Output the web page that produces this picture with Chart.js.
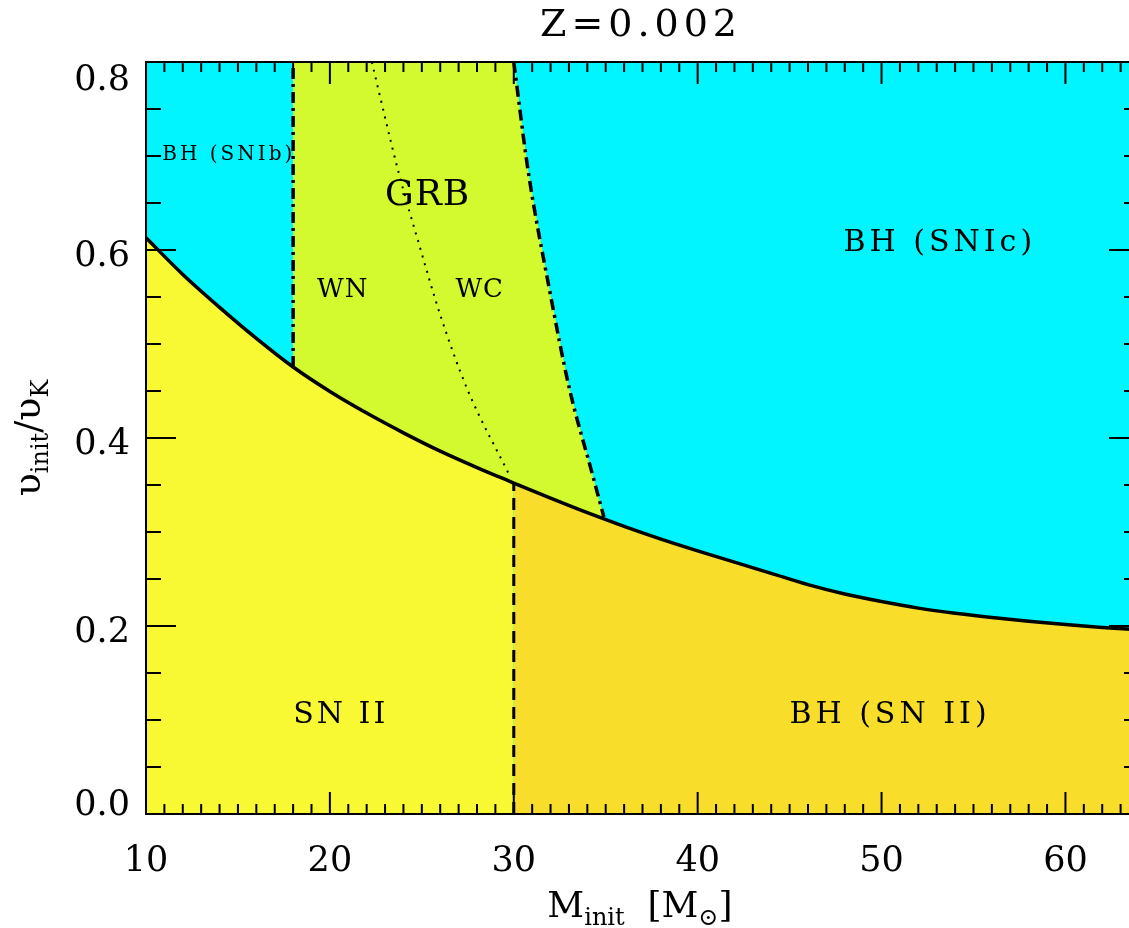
<!DOCTYPE html>
<html>
<head>
<meta charset="utf-8">
<script src="https://cdn.jsdelivr.net/npm/chart.js@4.4.1/dist/chart.umd.min.js"></script>
<style>
  html, body { margin: 0; padding: 0; overflow: hidden; background: #fff; }
  canvas { display: block; }
</style>
</head>
<body>
<canvas id="regimeChart" width="1140" height="928"></canvas>
<script>
// critical rotation boundary (solid line)
const massGrid = [10, 12, 14, 16, 18, 20, 22, 24, 26, 28, 30, 32, 34, 36, 38, 40, 42, 44, 46, 48, 50, 52, 54, 56, 58, 60, 62, 64];
const vBoundary = [0.613, 0.574, 0.539, 0.506, 0.4755, 0.4495, 0.4265, 0.4055, 0.386, 0.3685, 0.352, 0.336, 0.3205, 0.306, 0.2925, 0.280, 0.268, 0.256, 0.244, 0.234, 0.226, 0.219, 0.2135, 0.209, 0.205, 0.2015, 0.1985, 0.196];
// GRB right edge (dash-dot)
const grbEdgeMass = [30.0, 30.79, 31.93, 33.02, 34.24, 34.9];
const grbEdgeV = [0.8, 0.683, 0.559, 0.453, 0.364, 0.316];
// WN / WC split (dotted)
const wnwcMass = [22.28, 23.73, 24.91, 26.0, 27.45, 29.8];
const wnwcV = [0.8, 0.683, 0.602, 0.531, 0.453, 0.359];
const snIbEdgeMass = 18;
const bhEdgeMass = 30;
const vMax = 0.8;

const xTicks = [10, 20, 30, 40, 50, 60];
const yTicks = [0, 0.2, 0.4, 0.6, 0.8];
const yTickLabels = ['0.0', '0.2', '0.4', '0.6', '0.8'];
const regionNames = ['BH (SNIb)', 'GRB', 'WN', 'WC', 'BH (SNIc)', 'SN II', 'BH (SN II)'];

const cyan = '#00f5fe', yellow = '#f8f833', green = '#d3f92f', gold = '#f8dd2b';
const serif = '"DejaVu Serif", serif';

const pts = (xs, ys) => xs.map((m, i) => ({ x: m, y: ys[i] }));
const vAt = m => {
  for (let i = 1; i < massGrid.length; i++) {
    if (m <= massGrid[i]) {
      const t = (m - massGrid[i - 1]) / (massGrid[i] - massGrid[i - 1]);
      return vBoundary[i - 1] + t * (vBoundary[i] - vBoundary[i - 1]);
    }
  }
  return vBoundary[vBoundary.length - 1];
};

const curve = pts(massGrid, vBoundary);
const curveLeft = curve.filter(p => p.x <= bhEdgeMass);
const curveRight = curve.filter(p => p.x >= bhEdgeMass);
const grbEdge = pts(grbEdgeMass, grbEdgeV);
const grbLast = grbEdgeMass[grbEdgeMass.length - 1];
const grbShape = [{ x: snIbEdgeMass, y: vMax }]
  .concat(grbEdge)
  .concat(curve.filter(p => p.x >= snIbEdgeMass && p.x < grbLast).reverse());

const line = (data, extra) => Object.assign({
  data, borderColor: '#000', borderWidth: 3.5, pointRadius: 0, fill: false, tension: 0
}, extra);
const smooth = { cubicInterpolationMode: 'monotone' };

const frame = {
  id: 'frame',
  beforeDraw(chart) {
    const { ctx, chartArea: a } = chart;
    ctx.save();
    ctx.fillStyle = cyan;
    ctx.fillRect(a.left, a.top, a.right - a.left, a.bottom - a.top);
    ctx.restore();
  },
  afterDatasetsDraw(chart) {
    const { ctx, scales: { x, y } } = chart;
    const labels = [
      [0, 14.42, 0.704, 20, 3], [1, 25.29, 0.662, 36, 1], [2, 20.67, 0.56, 26, 1],
      [3, 28.12, 0.56, 26, 1], [4, 53.06, 0.611, 30, 4], [5, 20.51, 0.1085, 30, 3],
      [6, 50.35, 0.1085, 30, 4]
    ];
    ctx.save();
    ctx.fillStyle = '#000';
    ctx.textAlign = 'center';
    ctx.textBaseline = 'alphabetic';
    labels.forEach(([i, m, v, size, sp]) => {
      ctx.font = size + 'px ' + serif;
      ctx.letterSpacing = sp + 'px';
      ctx.fillText(regionNames[i], x.getPixelForValue(m) + sp / 2, y.getPixelForValue(v) + size * 0.365);
    });
    ctx.restore();
  },
  afterDraw(chart) {
    const { ctx, chartArea: a, scales: { x, y } } = chart;
    ctx.save();
    ctx.strokeStyle = '#000';
    ctx.lineWidth = 2;
    ctx.beginPath();
    for (let m = 10; m <= 64; m++) {
      const px = x.getPixelForValue(m);
      const len = m % 10 === 0 ? 22 : 10;
      ctx.moveTo(px, a.bottom); ctx.lineTo(px, a.bottom - len);
      ctx.moveTo(px, a.top); ctx.lineTo(px, a.top + len);
    }
    for (let k = 0; k <= 16; k++) {
      const py = y.getPixelForValue(k * 0.05);
      const len = k % 4 === 0 ? 30 : 15;
      ctx.moveTo(a.left, py); ctx.lineTo(a.left + len, py);
      ctx.moveTo(a.right, py); ctx.lineTo(a.right - len, py);
    }
    ctx.stroke();
    ctx.strokeRect(a.left, a.top, a.right - a.left, a.bottom - a.top);

    // y tick labels
    ctx.fillStyle = '#000';
    ctx.font = '35px ' + serif;
    ctx.textAlign = 'right';
    ctx.textBaseline = 'alphabetic';
    yTicks.forEach((v, i) => {
      let cy = y.getPixelForValue(v) + 3;
      cy = Math.max(a.top + 15, Math.min(a.bottom - 12, cy));
      ctx.fillText(yTickLabels[i], a.left - 16, cy + 35 * 0.365);
    });

    // title
    ctx.font = '38px ' + serif;
    ctx.textAlign = 'center';
    ctx.letterSpacing = '5px';
    ctx.fillText('Z=0.002', 641, 36);
    ctx.letterSpacing = '0px';

    // axis titles with subscripts
    const drawParts = (parts, cx, base) => {
      ctx.textAlign = 'left';
      let w = 0;
      parts.forEach(p => { ctx.font = p[1] + 'px ' + serif; w += ctx.measureText(p[0]).width; });
      let px = cx - w / 2;
      parts.forEach(p => {
        ctx.font = p[1] + 'px ' + serif;
        ctx.fillText(p[0], px, base + p[2]);
        px += ctx.measureText(p[0]).width;
      });
    };
    drawParts([['M', 36, 0], ['init', 24, 8], ['  [M', 36, 0], ['\u2299', 24, 8], [']', 36, 0]], 640, 917);
    ctx.translate(40, 438);
    ctx.rotate(-Math.PI / 2);
    drawParts([['\u03c5', 38, 0], ['init', 24, 8], ['/', 36, 0], ['\u03c5', 38, 0], ['K', 24, 8]], 0, 0);
    ctx.restore();
  }
};

new Chart(document.getElementById('regimeChart'), {
  type: 'line',
  data: {
    datasets: [
      line(grbShape, { borderWidth: 0, borderColor: 'rgba(0,0,0,0)', backgroundColor: green, fill: 'shape' }),
      line(curveLeft, Object.assign({ backgroundColor: yellow, fill: 'origin' }, smooth)),
      line(curveRight, Object.assign({ backgroundColor: gold, fill: 'origin' }, smooth)),
      line([{ x: snIbEdgeMass, y: vAt(snIbEdgeMass) }, { x: snIbEdgeMass, y: vMax }], { borderDash: [11, 5, 3, 5] }),
      line(grbEdge, Object.assign({ borderDash: [11, 5, 3, 5] }, smooth)),
      line(pts(wnwcMass, wnwcV), Object.assign({ borderWidth: 2, borderDash: [2, 6] }, smooth)),
      line([{ x: bhEdgeMass, y: 0 }, { x: bhEdgeMass, y: vAt(bhEdgeMass) }], { borderWidth: 3, borderDash: [12, 7] })
    ]
  },
  options: {
    responsive: false,
    devicePixelRatio: 1,
    animation: false,
    events: [],
    layout: { padding: { top: 62, right: 1, bottom: 0, left: 0 } },
    plugins: {
      legend: { display: false },
      title: { display: false },
      tooltip: { enabled: false },
      filler: { drawTime: 'beforeDatasetsDraw' }
    },
    scales: {
      x: {
        type: 'linear',
        min: 10,
        max: 64,
        grid: { display: false, drawTicks: false },
        border: { display: false },
        afterBuildTicks: s => { s.ticks = xTicks.map(v => ({ value: v })); },
        afterFit: s => { s.height = 114; },
        ticks: { color: '#000', font: { family: serif, size: 35 }, padding: 27, maxRotation: 0 }
      },
      y: {
        type: 'linear',
        min: 0,
        max: 0.8,
        grid: { display: false, drawTicks: false },
        border: { display: false },
        ticks: { display: false },
        afterFit: s => { s.width = 146; }
      }
    }
  },
  plugins: [frame]
});
</script>
</body>
</html>
